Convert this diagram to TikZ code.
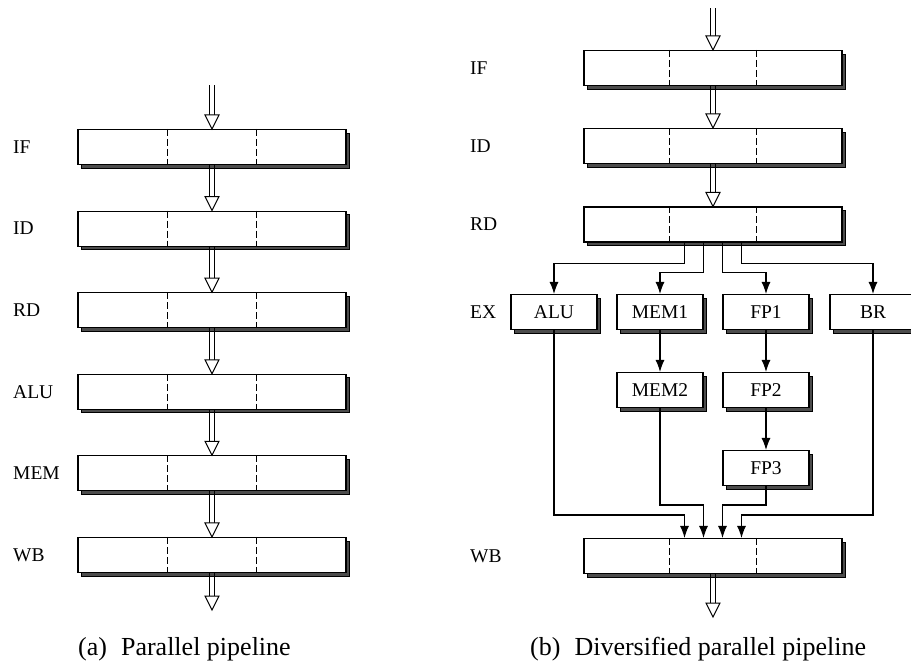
\documentclass[tikz,border=0pt]{standalone}
\usepackage{fontspec}
\setmainfont{Liberation Serif}
\usetikzlibrary{calc,shadows,arrows.meta}
\newcommand\lbl{\fontsize{19.5}{22}\selectfont}
\newcommand\cpt{\fontsize{26}{30}\selectfont}
\tikzset{
 stagebox/.style={draw, line width=1.1pt, fill=white, minimum height=35pt, inner sep=0pt,
   general shadow={fill=black!70, draw=black, line width=0.8pt, shadow xshift=3.5pt, shadow yshift=-3.5pt}},
 leftstage/.style={stagebox, minimum width=268pt},
 rightstage/.style={stagebox, minimum width=258pt},
 unitbox/.style={stagebox, minimum width=86pt, font=\lbl},
 lab/.style={anchor=west, inner sep=0pt, font=\lbl},
 dashline/.style={line width=0.8pt, dash pattern=on 7pt off 3pt},
 conn/.style={line width=1.1pt, -{Latex[length=12pt,width=9pt]}},
 harr/.style={line width=1pt},
 captxt/.style={anchor=base west, inner sep=0pt, font=\cpt},
}
\newcommand\thirds[1]{%
  \draw[dashline] ($(#1.north west)!1/3!(#1.north east)$) -- ($(#1.south west)!1/3!(#1.south east)$);
  \draw[dashline] ($(#1.north west)!2/3!(#1.north east)$) -- ($(#1.south west)!2/3!(#1.south east)$);}
% hollow arrow from #1 (tail) to #2 (tip), vertical, y axis pointing down
\newcommand\hollowarr[2]{%
  \draw[harr] ($(#1)+(-2.8,0)$) -- ($(#2)+(-2.8,-14)$);
  \draw[harr] ($(#1)+(2.8,0)$) -- ($(#2)+(2.8,-14)$);
  \draw[harr, fill=white] ($(#2)+(-7,-14)$) -- (#2) -- ($(#2)+(7,-14)$) -- cycle;}
\begin{document}
\begin{tikzpicture}[x=1pt,y=-1pt]
\useasboundingbox (0,0) rectangle (911,670);
% ---------- (a) ----------
\node[leftstage] (aif) at (212,147) {};
\node[leftstage] (aid) at (212,228.6) {};
\node[leftstage] (ard) at (212,310.2) {};
\node[leftstage] (aalu) at (212,391.8) {};
\node[leftstage] (amem) at (212,473.4) {};
\node[leftstage] (awb) at (212,555) {};
\foreach \n in {aif,aid,ard,aalu,amem,awb} {\thirds{\n}}
\node[lab] (laif) at (13,147) {IF};
\node[lab] (laid) at (13,228.6) {ID};
\node[lab] (lard) at (13,310.2) {RD};
\node[lab] (laalu) at (13,391.8) {ALU};
\node[lab] (lamem) at (13,473.4) {MEM};
\node[lab] (lawb) at (13,555) {WB};
\coordinate (atop) at (212,85);
\coordinate (abot) at (212,610);
\hollowarr{atop}{aif.north}
\hollowarr{aif.south}{aid.north}
\hollowarr{aid.south}{ard.north}
\hollowarr{ard.south}{aalu.north}
\hollowarr{aalu.south}{amem.north}
\hollowarr{amem.south}{awb.north}
\hollowarr{awb.south}{abot}
% ---------- (b) ----------
\node[rightstage] (bif) at (713,68) {};
\node[rightstage] (bid) at (713,146) {};
\node[rightstage] (brd) at (713,224.5) {};
\node[rightstage] (bwb) at (713,556) {};
\foreach \n in {bif,bid,brd,bwb} {\thirds{\n}}
\node[unitbox] (alu) at (554,312) {ALU};
\node[unitbox] (mem1) at (660,312) {MEM1};
\node[unitbox] (fp1) at (766,312) {FP1};
\node[unitbox] (br) at (873,312) {BR};
\node[unitbox] (mem2) at (660,390) {MEM2};
\node[unitbox] (fp2) at (766,390) {FP2};
\node[unitbox] (fp3) at (766,468) {FP3};
\node[lab] (lbif) at (470,68) {IF};
\node[lab] (lbid) at (470,146) {ID};
\node[lab] (lbrd) at (470,224.5) {RD};
\node[lab] (lbex) at (470,312) {EX};
\node[lab] (lbwb) at (470,556) {WB};
\coordinate (btop) at (713,8);
\coordinate (bbot) at (713,617);
\hollowarr{btop}{bif.north}
\hollowarr{bif.south}{bid.north}
\hollowarr{bid.south}{brd.north}
\hollowarr{bwb.south}{bbot}
% issue
\draw[conn] ([xshift=-28.5pt]brd.south) -- ++(0,21) -| (alu.north);
\draw[conn] ([xshift=-9.5pt]brd.south) -- ++(0,30) -| (mem1.north);
\draw[conn] ([xshift=9.5pt]brd.south) -- ++(0,30) -| (fp1.north);
\draw[conn] ([xshift=28.5pt]brd.south) -- ++(0,21) -| (br.north);
\draw[conn] (mem1) -- (mem2);
\draw[conn] (fp1) -- (fp2);
\draw[conn] (fp2) -- (fp3);
% merge
\draw[conn] (alu.south) |- ($(bwb.north)+(-28.5,-23)$) -- ([xshift=-28.5pt]bwb.north);
\draw[conn] (mem2.south) |- ($(bwb.north)+(-9.5,-33)$) -- ([xshift=-9.5pt]bwb.north);
\draw[conn] (fp3.south) |- ($(bwb.north)+(9.5,-33)$) -- ([xshift=9.5pt]bwb.north);
\draw[conn] (br.south) |- ($(bwb.north)+(28.5,-23)$) -- ([xshift=28.5pt]bwb.north);
% captions
\node[captxt] (capa) at (78,655) {(a)\hspace{14pt}Parallel pipeline};
\node[captxt] (capb) at (530,655) {(b)\hspace{14pt}Diversified parallel pipeline};
\end{tikzpicture}
\end{document}
